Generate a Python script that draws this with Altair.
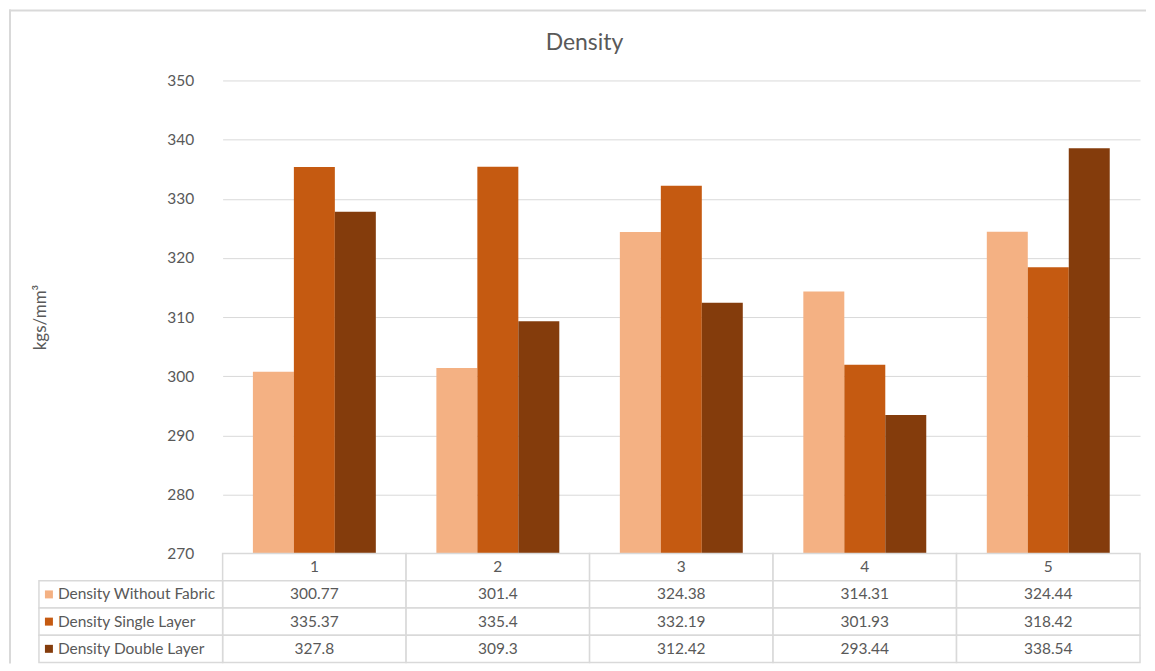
import altair as alt
import pandas as pd

categories = ["1", "2", "3", "4", "5"]
series = ["Density Without Fabric", "Density Single Layer", "Density Double Layer"]
without_fabric = [300.77, 301.4, 324.38, 314.31, 324.44]
single_layer = [335.37, 335.4, 332.19, 301.93, 318.42]
double_layer = [327.8, 309.3, 312.42, 293.44, 338.54]
colors = ["#F4B183", "#C55A11", "#843C0C"]
y_ticks = [270, 280, 290, 300, 310, 320, 330, 340, 350]

FONT = "Lato"
TXT = "#595959"
GRID = "#d9d9d9"
W, H = 919, 474
TH = 109
FS = 15.5

rows = []
for s, vals in zip(series, [without_fabric, single_layer, double_layer]):
    for c, v in zip(categories, vals):
        rows.append({"Category": c, "Series": s, "Row": s, "Value": v, "Label": f"{v:g}"})
df = pd.DataFrame(rows)
hdr = pd.DataFrame({"Category": categories, "Row": ["hdr"] * 5, "Label": categories})
table_df = pd.concat([hdr, df[["Category", "Row", "Label"]]], ignore_index=True)
series_df = pd.DataFrame({"Series": series, "Row": series})
row_domain = ["hdr"] + series

color = alt.Color("Series:N", scale=alt.Scale(domain=series, range=colors), legend=None)

bars = alt.Chart(df).mark_bar().encode(
    x=alt.X("Category:N", scale=alt.Scale(domain=categories, paddingInner=0.33, paddingOuter=0.165), axis=None),
    xOffset=alt.XOffset("Series:N", scale=alt.Scale(domain=series, paddingInner=0, paddingOuter=0)),
    y=alt.Y(
        "Value:Q",
        scale=alt.Scale(domain=[270, 350], zero=False, nice=False),
        axis=alt.Axis(
            values=y_ticks, title="kgs/mm³", grid=True, gridColor=GRID, gridWidth=1,
            domain=False, ticks=False, labelPadding=29, labelFont=FONT, labelFontSize=FS,
            labelColor=TXT, titleFont=FONT, titleFontSize=17, titleColor=TXT,
            titleFontWeight="normal", titleX=-182, titleY=H / 2, titleAngle=270,
            titleAlign="center", titleBaseline="middle",
        ),
    ),
    y2=alt.datum(270),
    color=color,
)

top = bars.properties(
    width=W, height=H,
    title=alt.Title("Density", font=FONT, fontSize=23, fontWeight="normal", color=TXT,
                    anchor="middle", frame="group", dx=-97, offset=19),
)

x_tab = alt.X("Category:N", scale=alt.Scale(domain=categories, paddingInner=0, paddingOuter=0), axis=None)
y_tab = alt.Y("Row:N", scale=alt.Scale(domain=row_domain, paddingInner=0, paddingOuter=0), axis=None)

one = pd.DataFrame({"a": [0]})
border_top = alt.Chart(one).mark_rule(color=GRID, strokeWidth=2).encode(
    x=alt.value(-214), x2=alt.value(925), y=alt.value(-544))
border_left = alt.Chart(one).mark_rule(color=GRID, strokeWidth=2).encode(
    x=alt.value(-213), y=alt.value(-545), y2=alt.value(110))

cells = alt.Chart(table_df).mark_rect(fill="white", stroke=GRID, strokeWidth=1.5).encode(x=x_tab, y=y_tab)
texts = alt.Chart(table_df).mark_text(font=FONT, fontSize=FS, color=TXT).encode(x=x_tab, y=y_tab, text="Label:N")
left_cells = alt.Chart(series_df).mark_rect(fill="white", stroke=GRID, strokeWidth=1.5).encode(
    x=alt.value(-184), x2=alt.value(0), y=y_tab)
swatches = alt.Chart(series_df).mark_square(size=64, opacity=1).encode(
    x=alt.value(-174), y=y_tab, color=color)
labels = alt.Chart(series_df).mark_text(font=FONT, fontSize=FS, color=TXT, align="left").encode(
    x=alt.value(-165), y=y_tab, text="Series:N")

table = alt.layer(border_top, border_left, cells, left_cells, texts, swatches, labels).properties(
    width=W, height=TH)

chart = alt.vconcat(top, table, spacing=0, bounds="flush").properties(
    padding={"left": 0, "top": 0, "right": 0, "bottom": 0}, background="white"
).configure_view(stroke="transparent", strokeWidth=0)

chart.save("out.html", embed_options={"renderer": "svg", "actions": False})
